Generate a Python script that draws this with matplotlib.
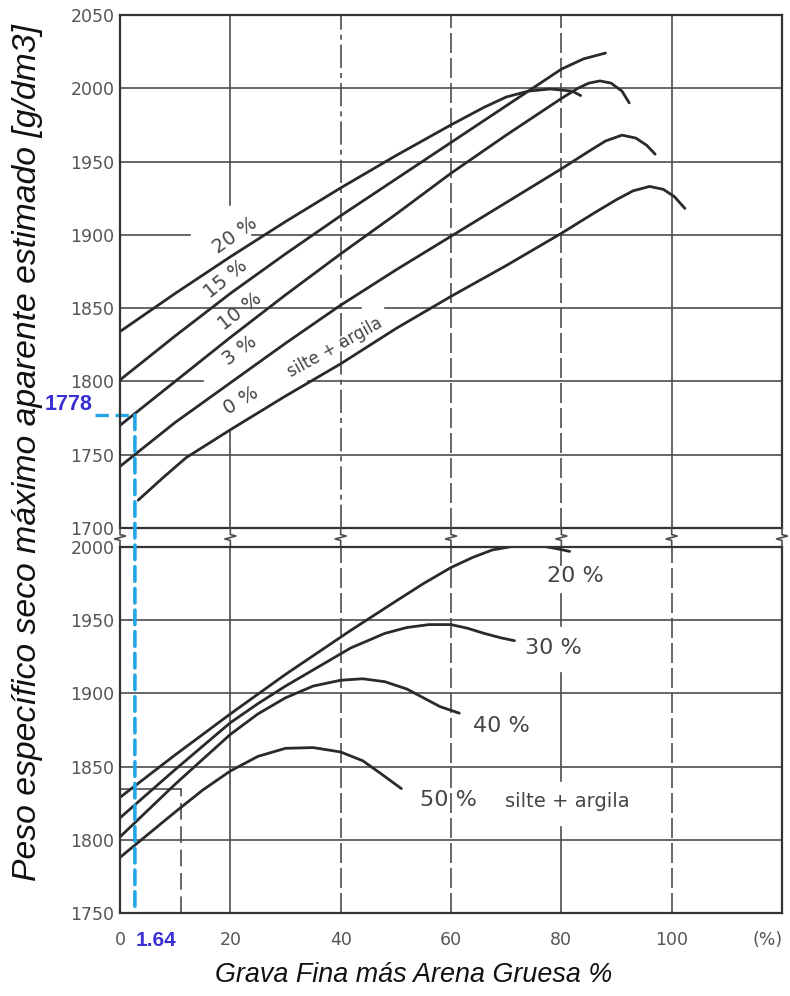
import matplotlib
matplotlib.use("Agg")
from matplotlib import pyplot as plt
from matplotlib.patches import ConnectionPatch

# upper block (0 - 20 % silte + argila), x = grava fina + arena gruesa %
top_20_x = [0, 10, 20, 30, 40, 50, 60, 66, 70, 74, 78, 82, 83.5]
top_20_y = [1834, 1860, 1885, 1909, 1932, 1954, 1975, 1987, 1994, 1998, 1999.5, 1998, 1995]
top_15_x = [0, 10, 20, 30, 40, 50, 60, 70, 74, 80, 84, 88]
top_15_y = [1801, 1831, 1860, 1887, 1913, 1938, 1963, 1988, 1998, 2013, 2020, 2024]
top_10_x = [0, 10, 20, 30, 40, 50, 60, 70, 80, 83, 85, 87, 89, 91, 92.3]
top_10_y = [1770, 1800, 1830, 1859, 1887, 1914, 1942, 1968, 1993, 2000, 2003.5, 2005, 2003.5, 1998, 1990]
top_3_x = [0, 10, 20, 30, 40, 50, 60, 70, 80, 85, 88, 91, 93.5, 95.5, 97]
top_3_y = [1742, 1772, 1799, 1826, 1852, 1876, 1899, 1922, 1945, 1957, 1964, 1968, 1966, 1961, 1955]
top_0_x = [3.3, 8, 12, 20, 30, 40, 50, 60, 70, 80, 86, 90, 93, 96, 98.5, 100.5, 102.4]
top_0_y = [1719, 1735, 1748, 1767, 1790, 1812, 1836, 1858, 1879, 1901, 1915, 1924, 1930, 1933, 1931, 1926, 1918]

# lower block (20 - 50 % silte + argila)
bot_20_x = [0, 10, 20, 30, 41.8, 50, 55, 60, 64, 67.5, 72, 76, 79, 81.5]
bot_20_y = [1829, 1858, 1886, 1913, 1943, 1963, 1975, 1986, 1993, 1998, 2001, 2001, 1999, 1997]
bot_30_x = [0, 10, 20, 25, 30, 41.8, 48, 52, 56, 60, 63, 66, 69, 71.5]
bot_30_y = [1815, 1848, 1880, 1893, 1905, 1931, 1941, 1945, 1947, 1947, 1944.5, 1941, 1938, 1936]
bot_40_x = [0, 10, 20, 25, 30, 35, 40, 44, 48, 52, 55, 58, 61.5]
bot_40_y = [1802, 1838, 1872, 1886, 1897, 1905, 1909, 1910, 1908, 1903, 1897, 1891, 1886.5]
bot_50_x = [0, 10, 15, 20, 25, 30, 35, 40, 44, 47, 51]
bot_50_y = [1788, 1819, 1834, 1847, 1857, 1862.5, 1863, 1860, 1854, 1846, 1835]

top_yticks = [1700, 1750, 1800, 1850, 1900, 1950, 2000, 2050]
bot_yticks = [1750, 1800, 1850, 1900, 1950, 2000]
xticks = [0, 20, 40, 60, 80, 100]

mark_x = 2.7       # where the blue reading line sits on the chart
mark_y = 1777
mark_x_label = "1.64"
mark_y_label = "1778"

curve_c = "#2a2a2a"
grid_c = "#4d4d4d"
txt_c = "#454545"
blue_line = "#22a6e6"
blue_txt = "#3a30d6"

fig = plt.figure(figsize=(7.9, 9.96), dpi=100)
ax_top = fig.add_axes([0.1519, 0.4699, 0.838, 0.5151])
ax_bot = fig.add_axes([0.1519, 0.0833, 0.838, 0.3675])

for ax in (ax_top, ax_bot):
    ax.set_xlim(0, 120)
    for s in ax.spines.values():
        s.set_linewidth(1.6)
        s.set_color("#333333")
    ax.tick_params(length=0, labelsize=12.5, labelcolor="#555555", pad=4)

ax_top.set_ylim(1700, 2050)
ax_bot.set_ylim(1750, 2000)
ax_top.set_yticks(top_yticks)
ax_bot.set_yticks(bot_yticks)
ax_top.set_xticks([])
ax_bot.set_xticks(xticks)
ax_bot.tick_params(axis="x", pad=13)


def hseg(ax, y, spans, **kw):
    for a, b in spans:
        ax.plot([a, b], [y, y], color=grid_c, lw=1.2, **kw)


def vseg(ax, x, spans, **kw):
    for a, b in spans:
        ax.plot([x, x], [a, b], color=grid_c, lw=1.2, **kw)


dash = (0, (12, 3))
dashdot = (0, (14, 3, 3, 3))

# grid of the upper block
for y in [1750, 1950, 2000]:
    hseg(ax_top, y, [(0, 120)])
hseg(ax_top, 1900, [(0, 12.7), (24, 120)])
hseg(ax_top, 1850, [(0, 43.6), (48, 120)])
hseg(ax_top, 1800, [(0, 15), (34, 120)])
vseg(ax_top, 20, [(1920, 2050), (1700, 1766)])
vseg(ax_top, 40, [(1700, 2050)], ls=dashdot)
vseg(ax_top, 60, [(1700, 2050)], ls=dash)
vseg(ax_top, 80, [(1700, 2050)], ls=dash)
vseg(ax_top, 100, [(1700, 2050)])

# grid of the lower block
for y in [1800, 1850, 1900, 1950]:
    hseg(ax_bot, y, [(0, 120)])
vseg(ax_bot, 20, [(1750, 2000)])
for xv in [40, 60, 100]:
    vseg(ax_bot, xv, [(1750, 2000)], ls=dash)
vseg(ax_bot, 80, [(1988, 2000), (1946, 1968), (1840, 1914), (1750, 1809)])
vseg(ax_bot, 11, [(1750, 1835)], ls=(0, (10, 4)))
hseg(ax_bot, 1835, [(0, 11)])

# break marks between the two blocks
for xb in [0, 20, 40, 60, 80, 100, 120]:
    ax_bot.plot([xb, xb, xb - 1.0, xb + 1.0, xb, xb],
                [2000, 2004.5, 2005.5, 2007.5, 2008.5, 2013],
                color=grid_c, lw=1.2, clip_on=False)

for xs, ys in [(top_20_x, top_20_y), (top_15_x, top_15_y), (top_10_x, top_10_y),
               (top_3_x, top_3_y), (top_0_x, top_0_y)]:
    ax_top.plot(xs, ys, color=curve_c, lw=2.0, solid_capstyle="round")
for xs, ys in [(bot_20_x, bot_20_y), (bot_30_x, bot_30_y),
               (bot_40_x, bot_40_y), (bot_50_x, bot_50_y)]:
    ax_bot.plot(xs, ys, color=curve_c, lw=2.0, solid_capstyle="round")

lab = dict(color=txt_c, ha="center", va="center", rotation_mode="anchor")
ax_top.text(20.9, 1900, "20 %", fontsize=14, rotation=35, **lab)
ax_top.text(19.1, 1870, "15 %", fontsize=14, rotation=39, **lab)
ax_top.text(21.8, 1848, "10 %", fontsize=14, rotation=38, **lab)
ax_top.text(21.8, 1821, "3 %", fontsize=14, rotation=36, **lab)
ax_top.text(22, 1787, "0 %", fontsize=14, rotation=31, **lab)
ax_top.text(39, 1823, "silte + argila", fontsize=12, rotation=29, **lab)

lab2 = dict(color=txt_c, ha="center", va="center")
ax_bot.text(82.5, 1980, "20 %", fontsize=16, **lab2)
ax_bot.text(78.5, 1931, "30 %", fontsize=16, **lab2)
ax_bot.text(69.1, 1877.7, "40 %", fontsize=16, **lab2)
ax_bot.text(59.5, 1827, "50 %", fontsize=16, **lab2)
ax_bot.text(81.1, 1826.5, "silte + argila", fontsize=14, **lab2)
ax_bot.text(117.3, 1731.5, "(%)", fontsize=12.5, color="#555555",
            ha="center", va="center", clip_on=False)

# blue reading lines
ax_top.plot([-4.5, mark_x], [mark_y, mark_y], color=blue_line, lw=2.4,
            ls=(0, (4, 2)), clip_on=False)
con = ConnectionPatch(xyA=(mark_x, mark_y), coordsA=ax_top.transData,
                      xyB=(mark_x, 1750), coordsB=ax_bot.transData,
                      color=blue_line, lw=2.6, ls=(0, (4, 2)))
fig.add_artist(con)
ax_top.text(-4.9, 1784, mark_y_label, ha="right", va="center", color=blue_txt,
            fontsize=15.5, fontweight="bold", family="Liberation Sans", clip_on=False)
ax_bot.text(2.9, 1731.5, mark_x_label, ha="left", va="center", color=blue_txt,
            fontsize=15, fontweight="bold", family="Liberation Sans", clip_on=False)

fig.text(0.035, 0.546, "Peso específico seco máximo aparente estimado [g/dm3]",
         rotation=90, ha="center", va="center", fontsize=24.3, style="italic",
         family=["Liberation Sans", "DejaVu Sans"], color="#111111")
fig.text(0.523, 0.021, "Grava Fina más Arena Gruesa %", ha="center", va="center",
         fontsize=19.4, style="italic", family=["Liberation Sans", "DejaVu Sans"],
         color="#111111")

fig.savefig("out.png", dpi=100)
